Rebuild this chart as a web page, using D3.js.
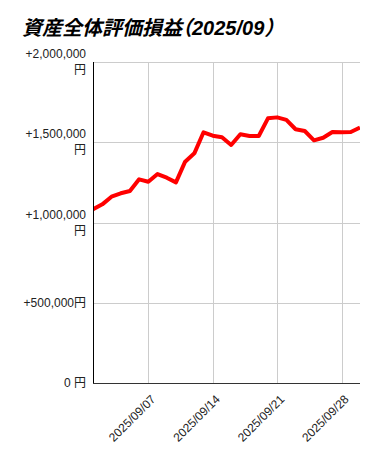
<!DOCTYPE html>
<html><head><meta charset="utf-8">
<script src="https://cdn.jsdelivr.net/npm/d3@7"></script>
<style>
html,body{margin:0;padding:0;background:#fff;}
svg{display:block;}
</style></head>
<body>
<svg id="chart" width="379" height="457"></svg>
<script>
const title = "資産全体評価損益（2025/09）";
const dates = ["2025-09-01","2025-09-02","2025-09-03","2025-09-04","2025-09-05","2025-09-06","2025-09-07","2025-09-08","2025-09-09","2025-09-10",
"2025-09-11","2025-09-12","2025-09-13","2025-09-14","2025-09-15","2025-09-16","2025-09-17","2025-09-18","2025-09-19","2025-09-20",
"2025-09-21","2025-09-22","2025-09-23","2025-09-24","2025-09-25","2025-09-26","2025-09-27","2025-09-28","2025-09-29","2025-09-30"];
const values = [1082000,1113000,1161000,1182000,1196000,1269000,1254000,1302000,1279000,1250000,
1379000,1431000,1562000,1541000,1531000,1483000,1550000,1539000,1539000,1649000,
1655000,1639000,1581000,1570000,1512000,1528000,1564000,1562000,1564000,1591000];
const yTicks = [0,500000,1000000,1500000,2000000];
const yTickLabels = [["0 円"],["+500,000円"],["+1,000,000","円"],["+1,500,000","円"],["+2,000,000","円"]];
const xTicks = ["2025-09-07","2025-09-14","2025-09-21","2025-09-28"];
const xTickLabels = ["2025/09/07","2025/09/14","2025/09/21","2025/09/28"];

const parse = d3.timeParse("%Y-%m-%d");
const svg = d3.select("#chart");
const L = 93, R = 360, T = 62, B = 383;
const x = d3.scaleTime().domain([parse(dates[0]), parse(dates[dates.length-1])]).range([L+0.1, R]);
const y = d3.scaleLinear().domain([0, 2000000]).range([B, T]);
const font = "Arial, 'Liberation Sans', 'Noto Sans CJK JP', sans-serif";

svg.append("text").attr("x", 22).attr("y", 35)
  .attr("font-family", "Arial, 'Liberation Sans', 'Noto Sans CJK JP', sans-serif")
  .style("font-feature-settings", "'halt'")
  .attr("font-size", 20).attr("font-weight", "bold").attr("font-style", "italic")
  .attr("fill", "#000").text(title);

// gridlines
svg.append("g").selectAll("line").data(yTicks.slice(1)).join("line")
  .attr("x1", L).attr("x2", R).attr("y1", d => Math.round(y(d))+0.5).attr("y2", d => Math.round(y(d))+0.5)
  .attr("stroke", "#cccccc").attr("stroke-width", 1);
svg.append("g").selectAll("line").data(xTicks).join("line")
  .attr("x1", d => Math.round(x(parse(d)))+0.5).attr("x2", d => Math.round(x(parse(d)))+0.5)
  .attr("y1", T).attr("y2", B)
  .attr("stroke", "#cccccc").attr("stroke-width", 1);

// y labels
const yl = svg.append("g").attr("font-family", font).attr("font-size", 12).attr("fill", "#222").attr("text-anchor", "end");
yTicks.forEach((v, i) => {
  const lines = yTickLabels[i];
  const cy = y(v);
  lines.forEach((t, j) => {
    const off = lines.length === 1 ? 0 : (j === 0 ? -8 : 8);
    yl.append("text").attr("x", 86).attr("y", cy + off).attr("dy", "0.35em").text(t);
  });
});

// x labels
svg.append("g").attr("font-family", font).attr("font-size", 12).attr("fill", "#222")
  .selectAll("text").data(xTicks).join("text")
  .attr("text-anchor", "end")
  .attr("transform", d => `translate(${x(parse(d))+8},${B+17}) rotate(-45)`)
  .text((d, i) => xTickLabels[i]);

// line
const clip = svg.append("clipPath").attr("id", "clip").append("rect")
  .attr("x", L).attr("y", T - 10).attr("width", R - L).attr("height", B - T + 10);
svg.append("path").datum(dates.map((d, i) => [parse(d), values[i]]))
  .attr("clip-path", "url(#clip)")
  .attr("fill", "none").attr("stroke", "#ff0000").attr("stroke-width", 4)
  .attr("stroke-linejoin", "round")
  .attr("d", d3.line().x(d => x(d[0])).y(d => y(d[1])));

// axes
svg.append("line").attr("x1", L+0.5).attr("x2", L+0.5).attr("y1", T).attr("y2", B+1).attr("stroke", "#000").attr("stroke-width", 1);
svg.append("line").attr("x1", L).attr("x2", R).attr("y1", B+0.5).attr("y2", B+0.5).attr("stroke", "#333").attr("stroke-width", 1);
</script>
</body></html>
